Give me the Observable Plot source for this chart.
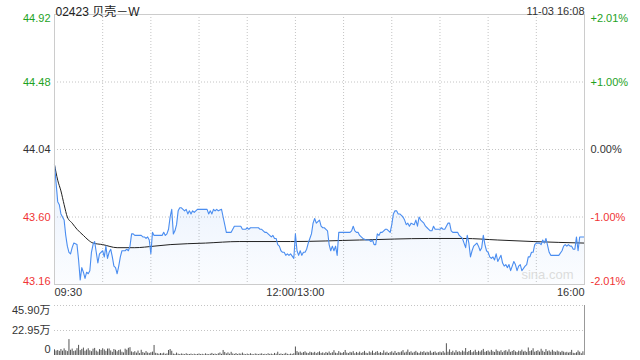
<!DOCTYPE html>
<html><head><meta charset="utf-8">
<script src="https://cdn.jsdelivr.net/npm/d3@7"></script>
<script src="https://cdn.jsdelivr.net/npm/@observablehq/plot@0.6"></script>
<style>
html,body{margin:0;padding:0;background:#fff;width:640px;height:360px;overflow:hidden}
#chart svg{display:block}
</style></head><body><div id="chart"></div>
<script>
const FONT = '"Liberation Sans", Arial, "Noto Sans CJK SC", sans-serif';
const title = "02423 贝壳－W";
const stamp = "11-03 16:08";
const priceTicks = [44.92, 44.48, 44.04, 43.60, 43.16];
const priceTickLabels = ["44.92", "44.48", "44.04", "43.60", "43.16"];
const pctTickLabels = ["+2.01%", "+1.00%", "0.00%", "-1.00%", "-2.01%"];
const tickColors = ["#1ea21e", "#1ea21e", "#333333", "#f03434", "#f03434"];
const timeTicks = [0, 150, 330];
const timeLabels = ["09:30", "12:00/13:00", "16:00"];
const gridMinutes = [30, 60, 90, 120, 150, 180, 210, 240, 270, 300];
const volTicks = [45.90, 22.95, 0];
const volTickLabels = ["45.90万", "22.95万", "0"];

// [minute since 09:30 (trading time), price]
const priceTrace = [[0,43.94],[2,43.70],[3,43.68],[4,43.62],[5,43.60],[6,43.58],[7,43.48],[8,43.41],[9,43.37],[10,43.36],[11,43.40],[12,43.43],[14,43.42],[15,43.32],[16,43.19],[17,43.27],[18,43.24],[19,43.20],[20,43.24],[21,43.23],[22,43.25],[23,43.37],[24,43.42],[25,43.44],[26,43.37],[27,43.30],[28,43.36],[30,43.38],[31,43.34],[32,43.41],[33,43.33],[34,43.37],[35,43.39],[36,43.34],[37,43.28],[38,43.27],[39,43.23],[40,43.28],[41,43.34],[42,43.38],[44,43.38],[45,43.39],[46,43.38],[47,43.41],[48,43.49],[49,43.49],[50,43.48],[52,43.48],[54,43.48],[55,43.47],[56,43.47],[57,43.46],[58,43.47],[59,43.45],[60,43.36],[61,43.50],[62,43.48],[64,43.48],[66,43.48],[67,43.48],[68,43.50],[69,43.48],[70,43.49],[71,43.52],[72,43.60],[73,43.65],[74,43.49],[75,43.51],[76,43.55],[77,43.64],[78,43.66],[79,43.66],[80,43.65],[81,43.64],[82,43.65],[83,43.62],[84,43.64],[85,43.62],[86,43.64],[87,43.63],[89,43.65],[91,43.65],[93,43.65],[95,43.65],[96,43.62],[97,43.64],[98,43.62],[99,43.65],[100,43.64],[101,43.65],[102,43.64],[104,43.65],[105,43.60],[106,43.55],[107,43.50],[109,43.50],[110,43.50],[111,43.52],[112,43.54],[114,43.54],[116,43.54],[117,43.52],[119,43.52],[120,43.53],[121,43.52],[122,43.53],[124,43.53],[126,43.53],[127,43.53],[128,43.52],[129,43.52],[130,43.51],[131,43.50],[132,43.50],[135,43.47],[136,43.48],[137,43.46],[138,43.46],[139,43.42],[140,43.41],[141,43.38],[142,43.37],[143,43.37],[144,43.35],[145,43.36],[146,43.35],[147,43.36],[149,43.33],[150,43.49],[151,43.38],[152,43.35],[153,43.38],[154,43.35],[155,43.37],[156,43.37],[157,43.39],[158,43.43],[159,43.46],[160,43.49],[161,43.56],[162,43.59],[163,43.56],[165,43.58],[166,43.54],[167,43.53],[168,43.53],[169,43.52],[170,43.51],[171,43.42],[172,43.38],[173,43.41],[174,43.38],[175,43.41],[176,43.35],[177,43.50],[180,43.50],[182,43.50],[184,43.50],[185,43.51],[186,43.54],[187,43.51],[188,43.50],[189,43.50],[190,43.48],[191,43.47],[192,43.46],[194,43.45],[195,43.45],[196,43.45],[197,43.44],[198,43.45],[199,43.42],[200,43.42],[201,43.49],[202,43.48],[203,43.50],[204,43.50],[205,43.51],[206,43.52],[207,43.52],[209,43.50],[210,43.55],[211,43.62],[212,43.64],[213,43.64],[214,43.62],[215,43.62],[216,43.61],[217,43.60],[218,43.58],[219,43.55],[220,43.56],[221,43.54],[222,43.56],[224,43.55],[225,43.58],[226,43.54],[227,43.60],[228,43.58],[229,43.57],[230,43.56],[231,43.54],[232,43.53],[233,43.52],[234,43.51],[235,43.51],[236,43.54],[237,43.52],[240,43.52],[241,43.53],[242,43.52],[243,43.52],[244,43.54],[245,43.56],[246,43.56],[247,43.51],[248,43.50],[251,43.50],[252,43.48],[254,43.46],[255,43.43],[256,43.40],[257,43.48],[258,43.43],[259,43.34],[260,43.38],[261,43.41],[262,43.42],[263,43.43],[264,43.41],[265,43.38],[266,43.40],[267,43.48],[268,43.42],[269,43.38],[270,43.37],[271,43.34],[272,43.33],[273,43.34],[274,43.32],[275,43.36],[276,43.31],[278,43.35],[279,43.30],[280,43.28],[281,43.29],[282,43.27],[283,43.29],[284,43.25],[285,43.28],[286,43.31],[287,43.29],[288,43.25],[289,43.28],[290,43.29],[291,43.25],[293,43.28],[294,43.29],[295,43.34],[296,43.34],[297,43.37],[298,43.37],[299,43.42],[300,43.43],[301,43.43],[302,43.43],[303,43.42],[304,43.45],[305,43.43],[306,43.46],[308,43.37],[309,43.35],[311,43.35],[314,43.35],[316,43.38],[317,43.41],[318,43.42],[319,43.41],[320,43.42],[321,43.41],[322,43.41],[323,43.39],[324,43.39],[325,43.47],[326,43.38],[327,43.47],[329,43.47],[330,43.47]];

// [minute, average price]
const avgTrace = [[0,43.94],[2,43.84],[4,43.77],[6,43.68],[8,43.60],[11,43.56],[14,43.52],[18,43.48],[21,43.45],[24,43.43],[30,43.42],[39,43.40],[50,43.40],[62,43.41],[72,43.42],[94,43.43],[115,43.44],[147,43.44],[190,43.45],[233,43.46],[255,43.46],[276,43.45],[298,43.44],[330,43.43]];

// volume per minute (万股), index = minute
const volume = [
5.2,4.1,4.6,3.8,5.5,4.0,6.1,4.4,3.6,14.6,
4.8,5.9,3.7,4.2,6.3,9.3,4.5,5.6,6.8,3.9,
5.0,6.2,4.3,3.5,5.8,6.5,4.0,3.1,5.4,4.7,
6.2,5.1,3.8,5.9,6.0,4.2,2.9,5.5,4.8,3.4,
4.6,5.1,3.0,2.4,5.8,4.9,6.6,7.2,3.3,2.6,
3.5,2.2,4.1,1.8,4.8,2.7,2.0,3.6,2.3,1.9,
2.5,3.1,9.2,2.0,1.6,1.2,1.8,1.4,2.1,1.1,
1.5,4.6,5.5,3.9,1.3,1.0,2.2,1.2,0.9,1.4,
1.1,0.8,1.6,1.0,0.9,1.3,0.7,1.2,0.8,1.0,
1.4,0.9,1.1,0.7,1.5,1.0,0.8,1.2,1.9,1.0,
1.3,0.9,1.6,2.3,1.1,4.6,2.8,1.5,2.4,1.2,
2.9,1.4,1.0,1.8,0.9,1.5,1.2,2.2,1.1,0.8,
1.3,0.9,1.6,1.0,0.7,1.4,1.1,0.8,1.2,1.5,
0.9,1.1,0.7,1.6,1.0,1.3,0.8,1.9,1.2,3.0,
1.0,1.4,0.9,1.2,2.0,1.1,0.8,1.3,1.0,1.6,7.8,
3.6,2.4,3.1,2.0,2.7,3.4,2.2,1.8,3.0,2.5,
2.1,2.9,1.7,2.6,3.3,1.9,2.4,1.6,2.8,2.0,
3.2,1.8,2.5,4.4,2.1,1.7,3.6,2.3,1.9,2.7,
4.6,2.2,1.8,2.9,2.4,3.5,1.6,2.8,2.0,3.1,
1.9,2.6,3.8,2.1,1.7,3.3,2.4,4.0,1.8,2.9,
3.6,2.0,2.7,1.9,4.2,2.3,3.0,1.8,2.6,3.4,
2.1,3.7,1.9,2.8,2.4,3.3,4.5,2.2,3.0,5.0,
2.6,3.4,2.1,2.9,3.8,2.4,1.9,3.2,2.7,3.5,
2.2,3.0,2.5,3.9,2.1,2.8,3.3,2.0,2.6,3.1,
2.4,3.6,2.2,10.8,3.0,5.2,2.7,3.9,2.3,4.4,
2.9,3.5,2.6,4.1,3.2,6.4,2.8,3.7,4.6,2.5,
3.3,4.8,2.7,3.9,3.1,4.3,5.6,2.9,3.6,4.2,
3.0,4.7,3.4,2.8,5.1,3.8,3.2,4.4,2.6,3.9,
4.5,3.1,5.2,2.9,3.7,4.6,3.3,2.7,4.0,3.5,
4.9,3.2,3.8,2.8,6.9,3.6,4.3,6.2,3.0,3.7,
4.4,3.1,5.7,3.9,2.8,5.4,3.5,4.2,3.0,4.8,
3.4,2.9,4.1,3.3,2.6,3.8,3.1,2.4,2.9,2.2,
2.8,4.7,2.0,1.8,2.5,4.2,3.0,1.6,3.4,2.9
];

const pd = priceTrace.map(([m, p]) => ({m, p}));
const ad = avgTrace.map(([m, p]) => ({m, p}));
const yt = priceTicks.map((v, i) => ({v, left: priceTickLabels[i], right: pctTickLabels[i], c: tickColors[i],
  pos: i === 0 ? "top" : i === priceTicks.length - 1 ? "bottom" : "middle"}));
const vt = volTicks.map((v, i) => ({v, label: volTickLabels[i],
  pos: i === 0 ? "top" : i === volTicks.length - 1 ? "bottom" : "middle"}));
const style = {fontFamily: FONT, fontSize: "11px", background: "#fff", color: "#333", overflow: "visible"};
const grid = {stroke: "#c4c4c4", strokeDasharray: "1,2", strokeWidth: 1};

const main = Plot.plot({
  width: 640, height: 302, marginLeft: 54, marginRight: 56, marginTop: 14, marginBottom: 18,
  style,
  x: {domain: [0, 330], axis: null},
  y: {domain: [43.16, 44.92], axis: null},
  color: {type: "identity"},
  marks: [
    Plot.ruleX(gridMinutes, grid),
    Plot.ruleY(priceTicks.slice(1, 4), grid),
    Plot.areaY(pd, {x: "m", y1: 43.16, y2: "p", fill: "url(#pgrad)"}),
    Plot.line(ad, {x: "m", y: "p", stroke: "#222", strokeWidth: 1, curve: "monotone-x"}),
    Plot.line(pd, {x: "m", y: "p", stroke: "#4a8df0", strokeWidth: 1.1}),
    Plot.frame({stroke: "#cccccc"}),
    ...["top", "middle", "bottom"].map(pos => Plot.text(yt.filter(d => d.pos === pos),
      {y: "v", text: "left", fill: "c", frameAnchor: "left", dx: -4, textAnchor: "end", lineAnchor: pos})),
    ...["top", "middle", "bottom"].map(pos => Plot.text(yt.filter(d => d.pos === pos),
      {y: "v", text: "right", fill: "c", frameAnchor: "right", dx: 6, textAnchor: "start", lineAnchor: pos})),
    ...["start", "middle", "end"].map((anchor, i) => Plot.text([timeLabels[i]],
      {x: () => timeTicks[i], text: d => d, frameAnchor: "bottom", dy: 11, textAnchor: anchor, fill: "#333"})),
    Plot.text([title], {frameAnchor: "top-left", dx: 1, dy: -7, textAnchor: "start", fontSize: 12, fill: "#222"}),
    Plot.text([stamp], {frameAnchor: "top-right", dy: -7, textAnchor: "end", fill: "#333"}),
    Plot.text(["sina.com"], {frameAnchor: "bottom-right", dx: -11, dy: -6, textAnchor: "end", fill: "#dcdcdc", fontSize: 13})
  ]
});
const defs = document.createElementNS("http://www.w3.org/2000/svg", "defs");
defs.innerHTML = '<linearGradient id="pgrad" x1="0" y1="0" x2="0" y2="1">' +
  '<stop offset="0" stop-color="#4a8df0" stop-opacity="0.13"/>' +
  '<stop offset="1" stop-color="#4a8df0" stop-opacity="0.02"/></linearGradient>';
main.insertBefore(defs, main.firstChild);

const vol = Plot.plot({
  width: 640, height: 58, marginLeft: 54, marginRight: 56, marginTop: 3, marginBottom: 5,
  style,
  x: {domain: [0, 330], axis: null},
  y: {domain: [0, 45.9], axis: null},
  marks: [
    Plot.ruleY(volTicks.slice(0, 2), grid),
    Plot.ruleX(volume, {x: (d, i) => i, y1: 0, y2: d => d, stroke: "#555", strokeWidth: 1}),
    Plot.ruleX([330], {stroke: "#999"}),
    Plot.text(vt.filter(d => d.pos === "top"),
      {y: "v", text: "label", frameAnchor: "left", dx: -4, dy: 1, textAnchor: "end", lineAnchor: "top", fill: "#333"}),
    Plot.text(vt.filter(d => d.pos === "middle"),
      {y: "v", text: "label", frameAnchor: "left", dx: -4, textAnchor: "end", lineAnchor: "middle", fill: "#333"}),
    Plot.text(vt.filter(d => d.pos === "bottom"),
      {y: "v", text: "label", frameAnchor: "left", dx: -4, dy: -3, textAnchor: "end", lineAnchor: "bottom", fill: "#333"})
  ]
});

const c = document.getElementById("chart");
c.appendChild(main);
c.appendChild(vol);
</script></body></html>
